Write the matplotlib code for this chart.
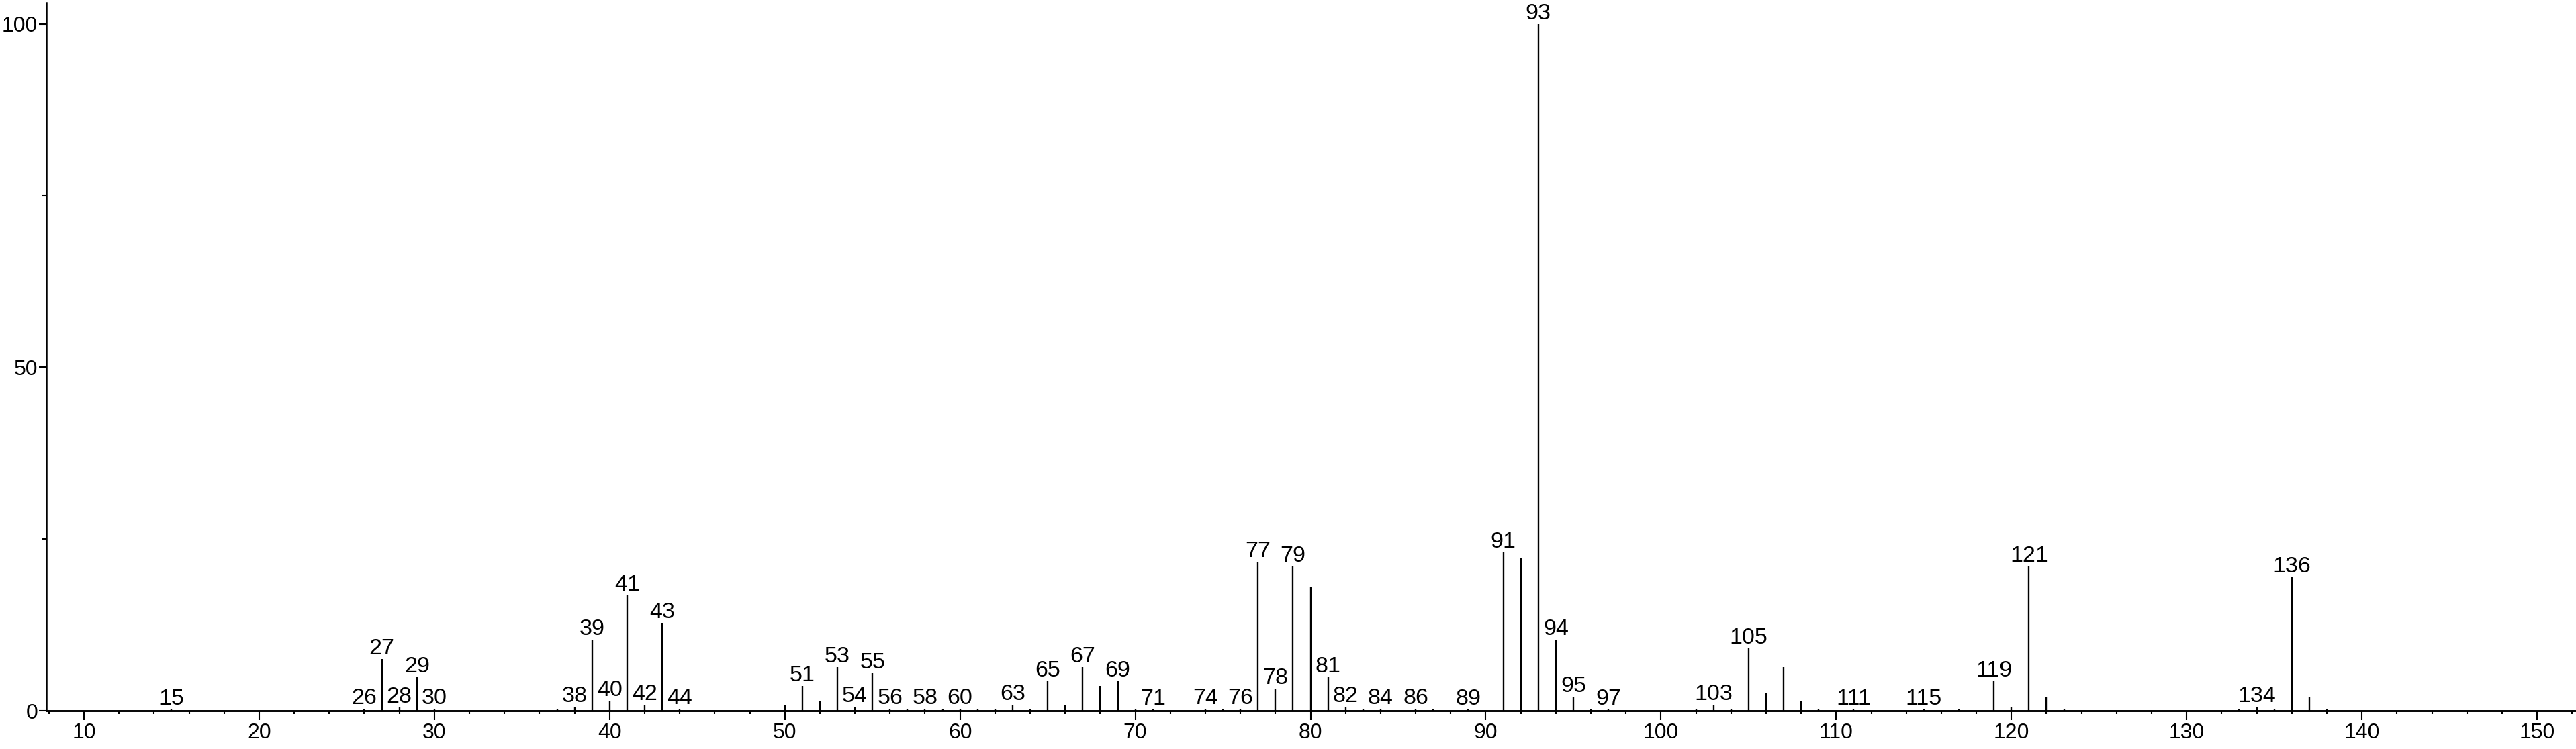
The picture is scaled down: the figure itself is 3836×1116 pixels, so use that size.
import matplotlib
matplotlib.use("Agg")
import matplotlib.pyplot as plt
from matplotlib.ticker import MultipleLocator

plt.rcParams["font.family"] = ["Liberation Sans", "DejaVu Sans"]

# =========================
# Espectro de massas (m/z, intensidade relativa)
# =========================
mz = [15, 26, 27, 28, 29, 30, 37, 38, 39, 40, 41, 42, 43, 44,
      50, 51, 52, 53, 54, 55, 56, 57, 58, 59, 60, 61, 62, 63, 64,
      65, 66, 67, 68, 69, 70, 71, 74, 75, 76, 77, 78, 79, 80, 81,
      82, 83, 84, 86, 87, 89, 91, 92, 93, 94, 95, 96, 97,
      102, 103, 104, 105, 106, 107, 108, 109, 111, 115, 117,
      119, 120, 121, 122, 123, 133, 134, 135, 136, 137, 138]
intensidade = [0.2, 0.3, 7.6, 0.5, 4.9, 0.3, 0.2, 0.6, 10.4, 1.5, 16.8, 0.9, 12.8, 0.3,
               0.9, 3.6, 1.5, 6.4, 0.6, 5.5, 0.3, 0.2, 0.3, 0.2, 0.3, 0.2, 0.3, 0.9, 0.3,
               4.3, 0.9, 6.4, 3.6, 4.3, 0.3, 0.2, 0.3, 0.2, 0.3, 21.7, 3.3, 21.0, 18.0, 4.9,
               0.65, 0.2, 0.3, 0.3, 0.2, 0.2, 23.1, 22.2, 100.0, 10.4, 2.1, 0.3, 0.2,
               0.3, 0.9, 0.3, 9.1, 2.7, 6.4, 1.5, 0.2, 0.2, 0.2, 0.2,
               4.3, 0.6, 21.0, 2.1, 0.2, 0.2, 0.6, 0.2, 19.5, 2.1, 0.3]

# picos com rótulo
rotulados = [15, 26, 27, 28, 29, 30, 38, 39, 40, 41, 42, 43, 44,
             51, 53, 54, 55, 56, 58, 60, 63, 65, 67, 69, 71, 74, 76,
             77, 78, 79, 81, 82, 84, 86, 89, 91, 93, 94, 95, 97,
             103, 105, 111, 115, 119, 121, 134, 136]

xticks = [10, 20, 30, 40, 50, 60, 70, 80, 90, 100, 110, 120, 130, 140, 150]
yticks = [0, 50, 100]

fig = plt.figure(figsize=(38.36, 11.16), dpi=100)
ax = fig.add_axes([0.01786, 0.0508, 0.98214, 0.9456])

ax.vlines(mz, 0, intensidade, color="black", linewidth=1.7)

for m, h in zip(mz, intensidade):
    if m in rotulados:
        ax.annotate(str(m), (m, h), xytext=(0, 0), textcoords="offset points",
                    ha="center", va="bottom", fontsize=24.5)

ax.set_xlim(7.835, 152.22)
ax.set_ylim(0, 103.08)

ax.set_xticks(xticks)
ax.set_yticks(yticks)
ax.xaxis.set_minor_locator(MultipleLocator(2))
ax.yaxis.set_minor_locator(MultipleLocator(25))

ax.spines["top"].set_visible(False)
ax.spines["right"].set_visible(False)
ax.spines["left"].set_linewidth(1.8)
ax.spines["bottom"].set_linewidth(2.1)

ax.tick_params(axis="x", which="major", length=10, width=1.5, labelsize=23, pad=3)
ax.tick_params(axis="x", which="minor", length=3.6, width=1.5)
ax.tick_params(axis="y", which="major", length=8, width=1.5, labelsize=23, pad=1)
ax.tick_params(axis="y", which="minor", length=4.3, width=1.5)

fig.savefig("out.png", dpi=100)
plt.close(fig)
